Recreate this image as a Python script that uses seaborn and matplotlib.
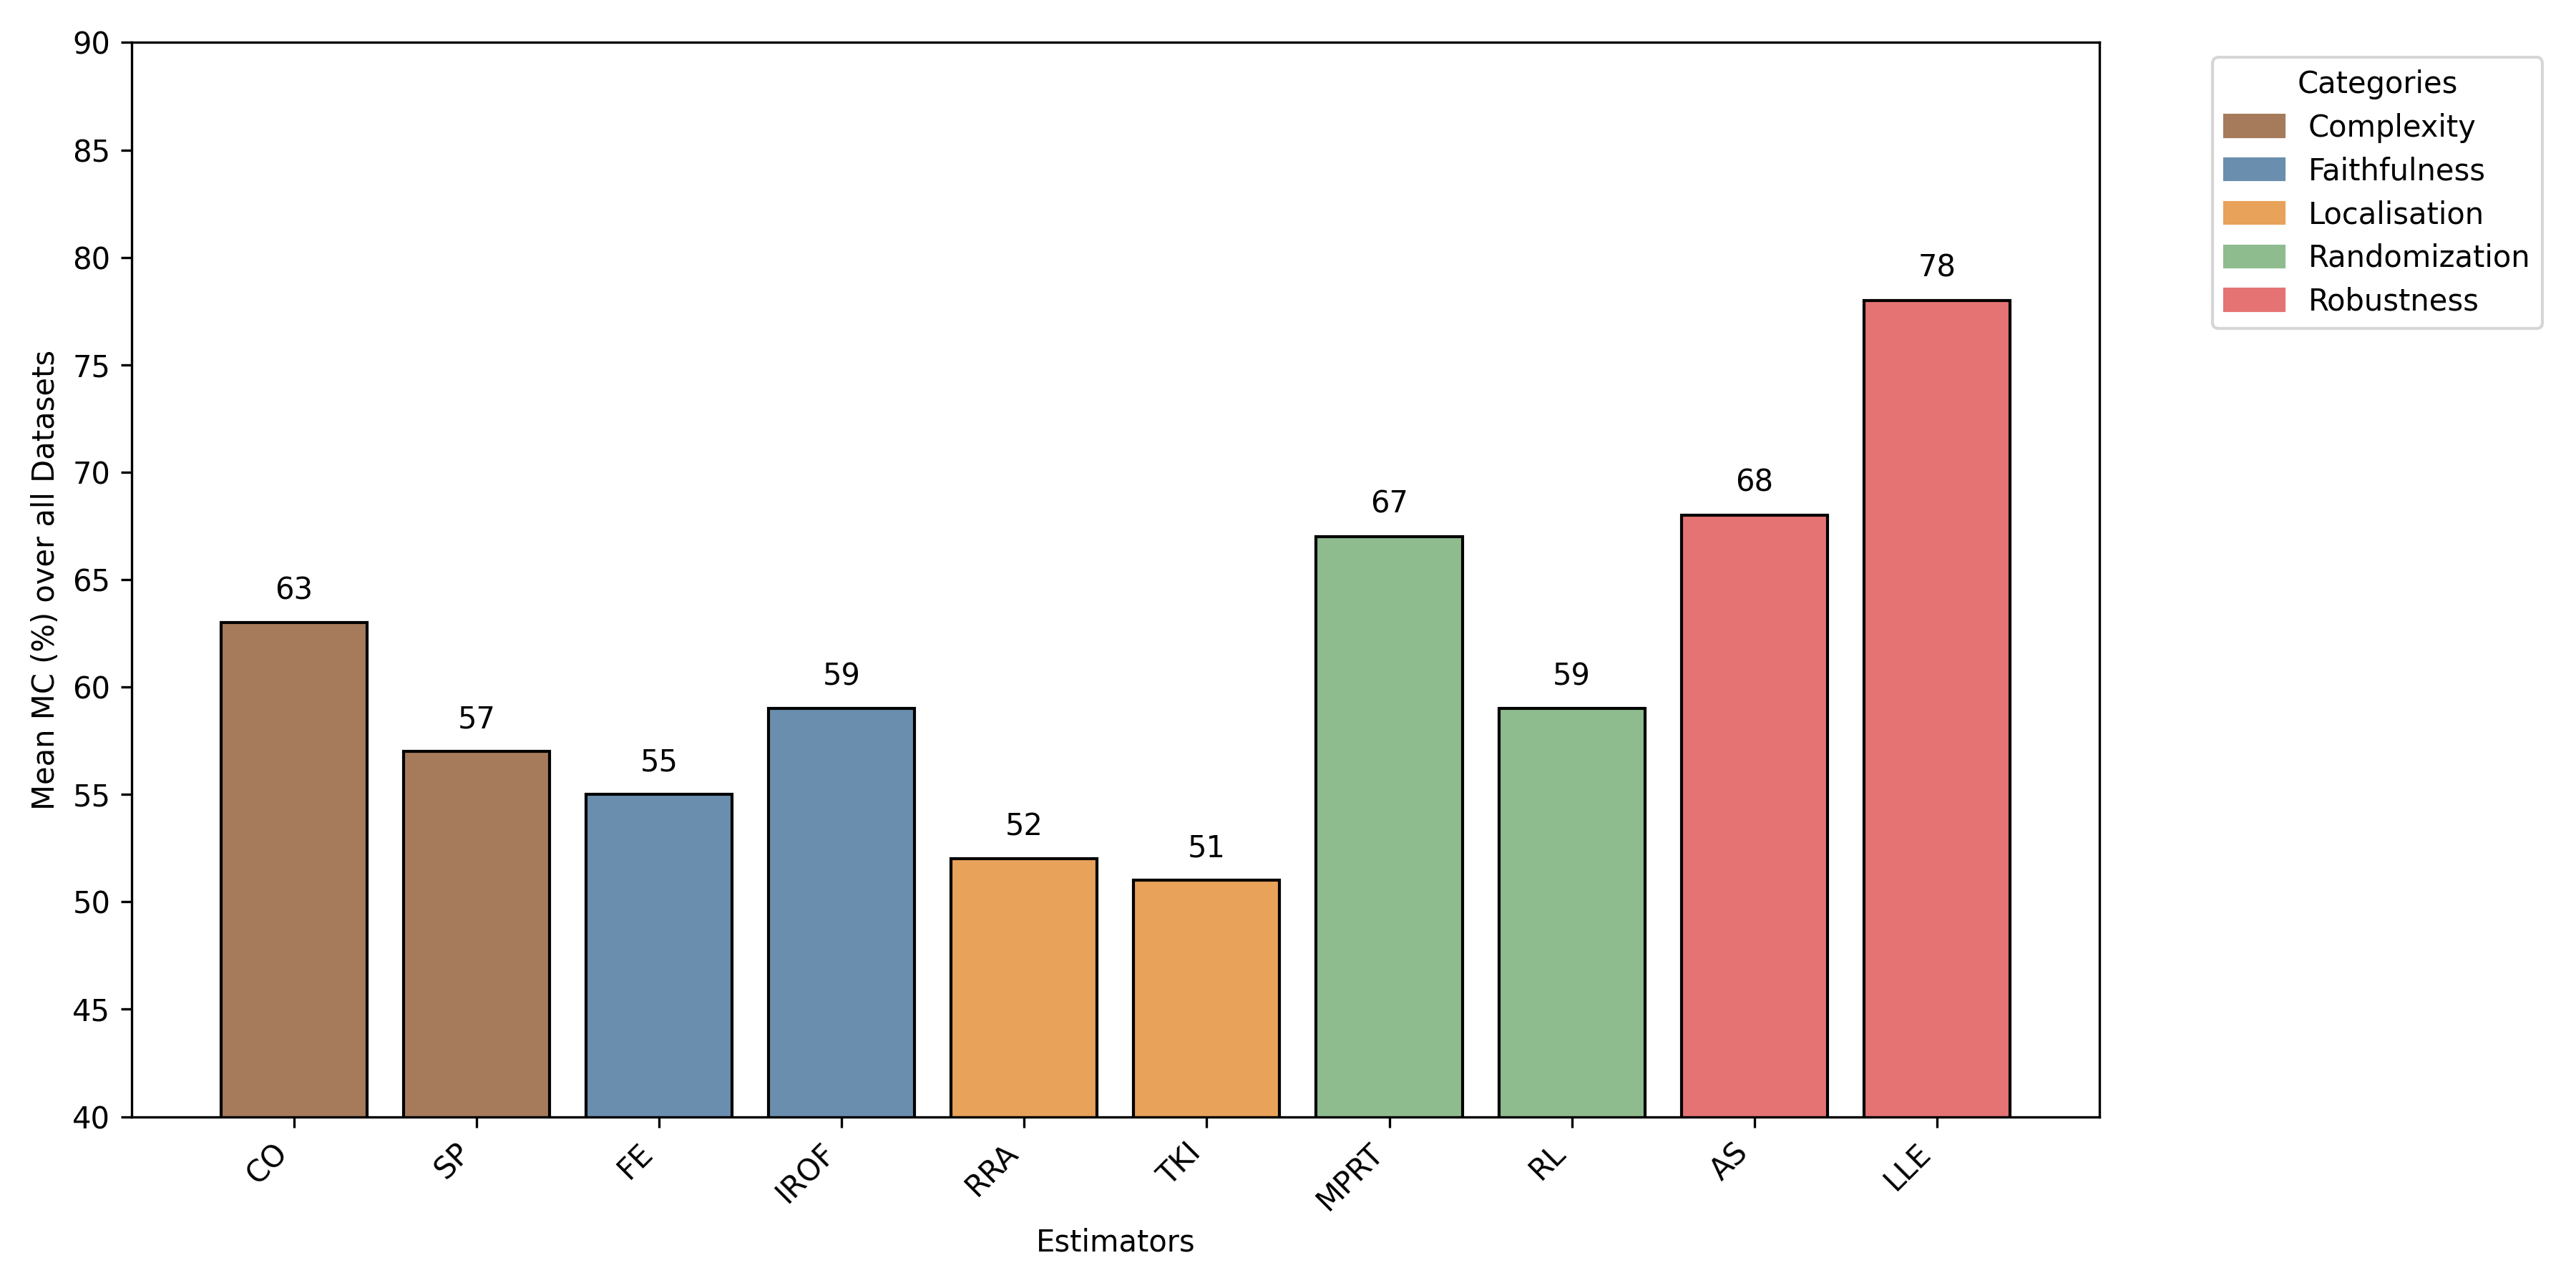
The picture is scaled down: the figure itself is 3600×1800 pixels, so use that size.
import matplotlib
matplotlib.use("Agg")
import matplotlib.pyplot as plt
from matplotlib.patches import Patch
import numpy as np
import pandas as pd
import seaborn as sns

estimators = ["CO", "SP", "FE", "IROF", "RRA", "TKI", "MPRT", "RL", "AS", "LLE"]
categories = ["Complexity", "Complexity", "Faithfulness", "Faithfulness",
              "Localisation", "Localisation", "Randomization", "Randomization",
              "Robustness", "Robustness"]
mean_mc = [63, 57, 55, 59, 52, 51, 67, 59, 68, 78]

palette = {
    "Complexity": "#A67B5B",
    "Faithfulness": "#6A8EAE",
    "Localisation": "#E8A25A",
    "Randomization": "#8FBC8F",
    "Robustness": "#E57373",
}

df = pd.DataFrame({"Estimator": estimators, "Category": categories, "MC": mean_mc})

fig, ax = plt.subplots(figsize=(12, 6), dpi=300)
sns.barplot(data=df, x="Estimator", y="MC", hue="Category", palette=palette,
            dodge=False, edgecolor="black", linewidth=1, width=0.8, ax=ax,
            saturation=1, legend=False)

for i, v in enumerate(mean_mc):
    ax.text(i, v + 0.8, f"{v}", ha="center", va="bottom", fontsize=10)

# matplotlib-style default x margins (5% of bar extent)
lo, hi = -0.4, len(estimators) - 1 + 0.4
pad = 0.05 * (hi - lo)
ax.set_xlim(lo - pad, hi + pad)
ax.set_ylim(40, 90)
ax.set_yticks(np.arange(40, 91, 5))
ax.set_xlabel("Estimators")
ax.set_ylabel("Mean MC (%) over all Datasets")
plt.setp(ax.get_xticklabels(), rotation=45, ha="right")

handles = [Patch(color=c, label=k) for k, c in palette.items()]
ax.legend(handles=handles, title="Categories", bbox_to_anchor=(1.05, 1),
          loc="upper left", labelspacing=0.45)

fig.subplots_adjust(left=0.051, right=0.815, top=0.967, bottom=0.133)
fig.savefig("out.png", dpi=300)
